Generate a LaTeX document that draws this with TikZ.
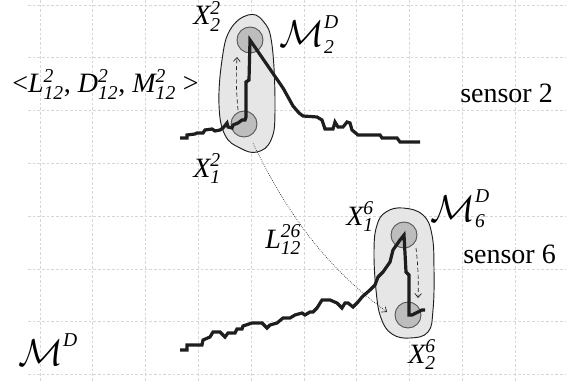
\documentclass[tikz,border=0pt]{standalone}
\usepackage{amsmath}
\usepackage{fontspec}
\setmainfont{Liberation Serif}
\usetikzlibrary{arrows.meta}
\definecolor{ink}{HTML}{1E1E1E}
\definecolor{gridc}{HTML}{D6D6D6}
\definecolor{blob}{HTML}{E6E6E6}
\definecolor{dot}{HTML}{BDBDBD}
\newcommand{\xlab}[3]{$\textit{#1}^{\textit{#2}}_{\textit{#3}}$}
\newcommand{\mlab}[2]{$\scalebox{1.35}{$\mathcal{M}$}^{\textit{#1}}_{\textit{#2}}$}
\begin{document}
\begin{tikzpicture}[x=0.75pt,y=-0.75pt,>={Straight Barb[length=3pt,width=5pt]},
  font=\fontsize{21}{24}\selectfont,
  gridline/.style={gridc,dash pattern=on 2pt off 1.5pt,line width=0.6pt},
  series/.style={ink,line width=2.4pt},
  xpt/.style={circle,draw=ink!75,fill=dot,line width=0.7pt,minimum size=19.5pt,inner sep=0pt},
  lbl/.style={inner sep=0pt,anchor=base west}]
\useasboundingbox (0,0) rectangle (566,381);
% grid
\foreach \i in {0,...,9} \draw[gridline] ({40+52.8*\i},0) -- ({40+52.8*\i},381);
\foreach \j in {0,...,7} \draw[gridline] (28,{5+52.8*\j}) -- (566,{5+52.8*\j});
% motif groups
\draw[ink,fill=blob,line width=0.7pt] plot[smooth cycle,tension=0.7] coordinates {(248,15) (263,21) (272,45) (275,110) (271,140) (257,152) (240,148) (225,135) (219,105) (222,60) (230,30)};
\draw[ink,fill=blob,line width=0.7pt] plot[smooth cycle,tension=0.7] coordinates {(403,208) (423,215) (432,235) (434,270) (433,310) (428,332) (410,338) (392,334) (381,318) (376,290) (374,250) (377,225) (386,212)};
\node[xpt] (x22) at (250,40) {};
\node[xpt] (x12) at (244,124) {};
\node[xpt] (x16) at (404,235) {};
\node[xpt] (x26) at (408,315) {};
% sensor 2
\draw[series] (180,138) -- (187,138) -- (187,135) -- (195,134) -- (197,133) -- (203,133) -- (205,130) -- (212,129) -- (215,131) -- (220,130) -- (223,128) -- (227,123) -- (228,127) -- (232,128) -- (233,125) -- (238,123) -- (242,120) -- (245,120) -- (246,117) -- (246,82) -- (249,80) -- (x22.center) -- (283,88) -- (293,106) -- (299,113) -- (303,116) -- (317,117) -- (322,120) -- (325,129) -- (333,129) -- (335,122) -- (338,127) -- (343,127) -- (347,122) -- (350,123) -- (352,130) -- (358,135) -- (380,135) -- (382,138) -- (397,138) -- (400,142) -- (420,142);
% sensor 6
\draw[series] (180,350) -- (187,350) -- (187,345) -- (202,345) -- (203,340) -- (210,337) -- (213,332) -- (220,332) -- (225,337) -- (228,333) -- (235,333) -- (237,329) -- (242,329) -- (243,326) -- (252,323) -- (262,323) -- (267,328) -- (270,325) -- (277,323) -- (283,318) -- (290,318) -- (295,315) -- (302,313) -- (305,315) -- (310,312) -- (313,312) -- (317,308) -- (322,300) -- (330,300) -- (337,303) -- (342,308) -- (345,303) -- (348,303) -- (353,307) -- (358,302) -- (362,297) -- (370,290) -- (375,285) -- (378,277) -- (383,272) -- (390,262) -- (393,250) -- (400,240) -- (x16.center) -- (406,272) -- (409,275) -- (409,315) -- (412,315) -- (422,310) -- (425,310);
% arrows
\coordinate (a2s) at (238,110); \coordinate (a2e) at (237,57);
\coordinate (a6s) at (416,248); \coordinate (a6e) at (418,298);
\coordinate (ls) at (253,143); \coordinate (le) at (387,312);
\draw[->,ink,densely dashed,line width=0.5pt] (a2s) to[bend left=4] (a2e);
\draw[->,ink,densely dashed,line width=0.5pt] (a6s) to[bend left=4] (a6e);
\draw[->,ink,densely dotted,line width=0.5pt] (ls) .. controls (290,220) and (330,270) .. (le);
% labels
\node[lbl] (tx22) at (193,25) {\xlab{X}{2}{2}};
\node[lbl] (tx12) at (193,177) {\xlab{X}{2}{1}};
\node[lbl] (tx16) at (346,225) {\xlab{X}{6}{1}};
\node[lbl] (tx26) at (408,363) {\xlab{X}{6}{2}};
\node[lbl] (tm2) at (279,47) {\mlab{D}{2}};
\node[lbl] (tm6) at (430,221) {\mlab{D}{6}};
\node[lbl] (tm) at (18,365) {$\scalebox{1.35}{$\mathcal{M}$}^{\textit{D}}$};
\node[lbl] (tlink) at (265,248) {\xlab{L}{26}{12}};
\node[lbl] (tmot) at (12,93) {<\xlab{L}{2}{12}, \xlab{D}{2}{12}, \xlab{M}{2}{12} >};
\node[lbl] (ts2) at (460,103) {sensor 2};
\node[lbl] (ts6) at (463,263) {sensor 6};
\end{tikzpicture}
\end{document}
